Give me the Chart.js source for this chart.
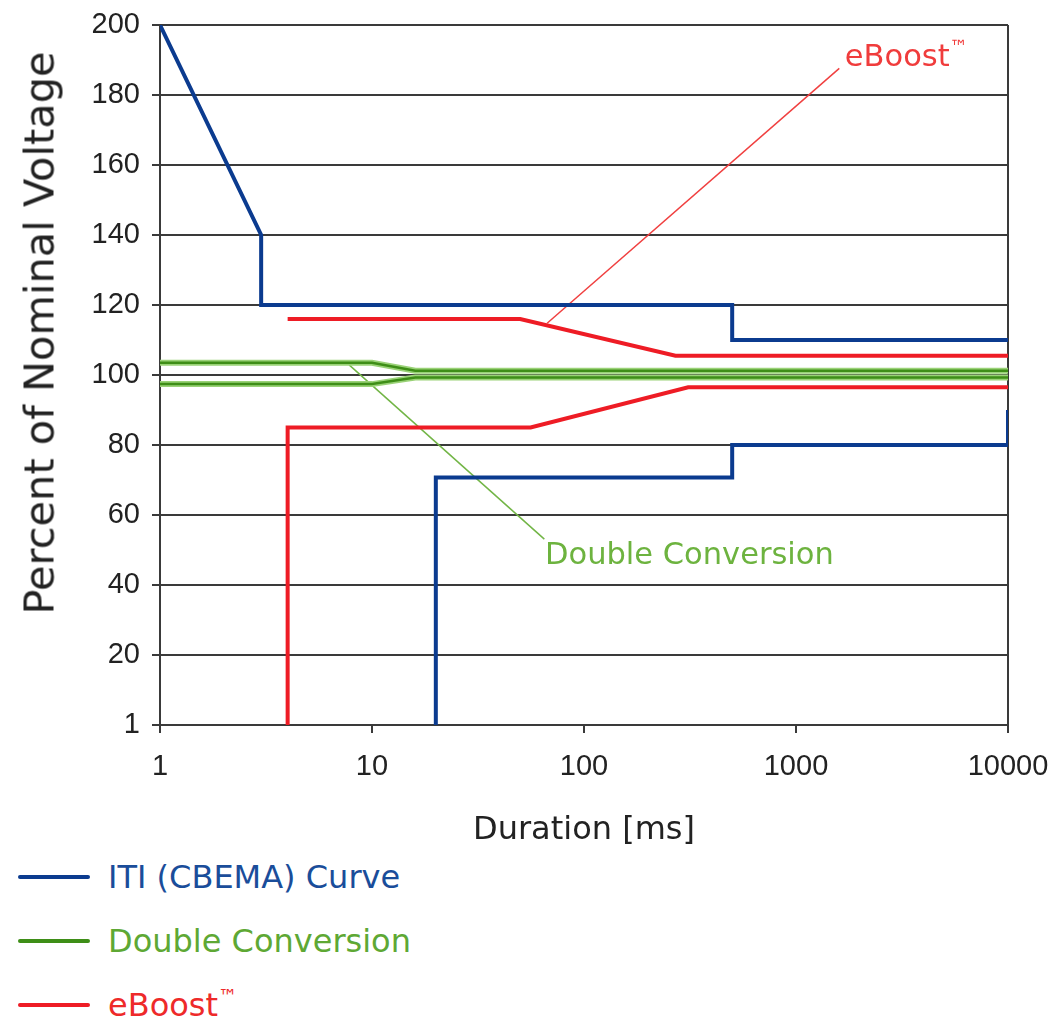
<!DOCTYPE html>
<html><head><meta charset="utf-8">
<script src="https://cdn.jsdelivr.net/npm/chart.js@4.4.1/dist/chart.umd.min.js"></script>
<style>
html,body{margin:0;padding:0;background:#fff;}
#wrap{position:relative;width:1058px;height:1020px;overflow:hidden;font-family:"DejaVu Sans",sans-serif;}
#c{position:absolute;left:0;top:0;}
.ytitle{position:absolute;left:39px;top:333px;transform:translate(-50%,-50%) rotate(-90deg);white-space:nowrap;font-size:41.5px;color:#222;}
.ann{position:absolute;white-space:nowrap;font-size:30px;transform:translateY(-50%);line-height:1;}
.tm{font-size:0.6em;vertical-align:0.7em;}
.leg{position:absolute;left:18px;display:flex;align-items:center;height:40px;transform:translateY(-50%);}
.leg .sw{width:72px;height:4px;margin-right:18px;border-radius:2px;}
.leg .tx{font-size:32px;white-space:nowrap;}
</style></head>
<body>
<div id="wrap">
  <canvas id="c" width="1058" height="850"></canvas>
  <div class="ytitle" id="ytitle"></div>
  <div class="ann" id="annEb"></div>
  <div class="ann" id="annDc"></div>
  <div id="legend"></div>
</div>
<script>
// ---- data ----
const xTickValues = [1, 10, 100, 1000, 10000];
const xTickLabels = ['1', '10', '100', '1000', '10000'];
const yTickValues = [0, 20, 40, 60, 80, 100, 120, 140, 160, 180, 200];
const yTickLabels = ['1', '20', '40', '60', '80', '100', '120', '140', '160', '180', '200'];

const xTitle = 'Duration [ms]';
const yTitle = 'Percent of Nominal Voltage';

const seriesNames = ['ITI (CBEMA) Curve', 'Double Conversion', 'eBoost\u2122'];

// ITI (CBEMA) curve
const itiUpperX = [1, 3, 3, 500, 500, 10000];
const itiUpperY = [200, 140, 120, 120, 110, 110];
const itiLowerX = [20, 20, 500, 500, 10000, 10000];
const itiLowerY = [0, 70.7, 70.7, 80, 80, 90];

// Double Conversion
const dcUpperX = [1, 10, 16, 10000];
const dcUpperY = [103.5, 103.5, 101.2, 101.2];
const dcLowerX = [1, 10, 16, 10000];
const dcLowerY = [97.4, 97.4, 99.3, 99.3];

// eBoost
const ebUpperX = [4, 50, 270, 10000];
const ebUpperY = [116, 116, 105.5, 105.5];
const ebLowerX = [4, 4, 56, 310, 10000];
const ebLowerY = [0, 85, 85, 96.5, 96.5];

// callout leader lines (data coordinates)
const ebLeaderX = [67, 1600];
const ebLeaderY = [114.8, 187.6];
const dcLeaderX = [7.8, 65];
const dcLeaderY = [102.9, 53.1];

// callout label anchors (data coordinates)
const ebLabelAt = [1700, 191.5];
const dcLabelAt = [65.5, 48.9];

// ---- styles ----
const C_BLUE = '#0b3b8f', C_RED = '#ee1c25', C_GREEN = '#3e8e17', C_GREEN_HALO = '#9ad277';
const C_GRID = '#3a3a3a';

function pts(xs, ys) { return xs.map((x, i) => ({x: x, y: ys[i]})); }
function line(data, color, width, order) {
  return {data: data, borderColor: color, backgroundColor: color, borderWidth: width,
    showLine: true, pointRadius: 0, pointHoverRadius: 0, tension: 0, fill: false, order: order,
    borderJoinStyle: 'miter', borderCapStyle: 'butt'};
}

const datasets = [
  line(pts(ebLeaderX, ebLeaderY), '#f04040', 1.5, 9),
  line(pts(dcLeaderX, dcLeaderY), '#72b546', 1.5, 9),
  line(pts(dcUpperX, dcUpperY), C_GREEN_HALO, 6, 6),
  line(pts(dcLowerX, dcLowerY), C_GREEN_HALO, 6, 6),
  line(pts(dcUpperX, dcUpperY), C_GREEN, 2.5, 5),
  line(pts(dcLowerX, dcLowerY), C_GREEN, 2.5, 5),
  line(pts(ebUpperX, ebUpperY), C_RED, 4, 3),
  line(pts(ebLowerX, ebLowerY), C_RED, 4, 3),
  line(pts(itiUpperX, itiUpperY), C_BLUE, 4, 2),
  line(pts(itiLowerX, itiLowerY), C_BLUE, 4, 2),
];

const htmlPos = {
  id: 'htmlPos',
  afterRender(chart) {
    const xs = chart.scales.x, ys = chart.scales.y;
    const eb = document.getElementById('annEb');
    eb.style.left = xs.getPixelForValue(ebLabelAt[0]) + 'px';
    eb.style.top = ys.getPixelForValue(ebLabelAt[1]) + 'px';
    const dc = document.getElementById('annDc');
    dc.style.left = xs.getPixelForValue(dcLabelAt[0]) + 'px';
    dc.style.top = ys.getPixelForValue(dcLabelAt[1]) + 'px';
  }
};

new Chart(document.getElementById('c'), {
  type: 'scatter',
  data: {datasets: datasets},
  options: {
    responsive: false,
    animation: false,
    devicePixelRatio: 1,
    layout: {padding: {top: 25, right: 50, left: 0, bottom: 0}},
    plugins: {legend: {display: false}, tooltip: {enabled: false}},
    scales: {
      x: {
        type: 'logarithmic', min: 1, max: 10000,
        afterBuildTicks: (s) => { s.ticks = xTickValues.map(v => ({value: v, major: true})); },
        afterFit: (s) => { s.height = 125; s.paddingLeft = 0; s.paddingRight = 0; },
        ticks: {
          autoSkip: false, maxRotation: 0, padding: 17, color: '#222',
          font: {family: '"Liberation Sans", Arial, sans-serif', size: 29},
          callback: (v) => { const i = xTickValues.indexOf(v); return i >= 0 ? xTickLabels[i] : ''; }
        },
        grid: {
          drawOnChartArea: true, lineWidth: 2, tickLength: 8, tickWidth: 2, tickColor: C_GRID,
          color: (ctx) => (ctx.tick && ctx.tick.value === 10000) ? C_GRID : 'rgba(0,0,0,0)'
        },
        border: {display: true, color: C_GRID, width: 2},
        title: {display: true, text: xTitle, color: '#222', padding: {top: 0, bottom: 0},
          font: {family: '"DejaVu Sans", sans-serif', size: 32}}
      },
      y: {
        type: 'linear', min: 0, max: 200,
        afterBuildTicks: (s) => { s.ticks = yTickValues.map(v => ({value: v})); },
        afterFit: (s) => { s.width = 160; s.paddingTop = 0; s.paddingBottom = 0; },
        ticks: {
          padding: 12, color: '#222',
          font: {family: '"Liberation Sans", Arial, sans-serif', size: 29},
          callback: (v) => { const i = yTickValues.indexOf(v); return i >= 0 ? yTickLabels[i] : ''; }
        },
        grid: {color: C_GRID, lineWidth: 2, tickLength: 8, tickWidth: 2, tickColor: C_GRID},
        border: {display: true, color: C_GRID, width: 2},
        title: {display: false}
      }
    }
  },
  plugins: [htmlPos]
});

// ---- HTML text ----
document.getElementById('ytitle').textContent = yTitle;
const annEb = document.getElementById('annEb');
annEb.style.color = '#f03c3c';
annEb.style.fontSize = '30.5px';
annEb.innerHTML = 'eBoost<span class="tm">\u2122</span>';
const annDc = document.getElementById('annDc');
annDc.style.color = '#6db33f';
annDc.style.fontSize = '30.5px';
annDc.textContent = seriesNames[1];

const legendColors = [[C_BLUE, '#1a4d9a'], [C_GREEN, '#5ea834'], [C_RED, '#ee2a2a']];
const legendTops = [877, 941, 1005];
const leg = document.getElementById('legend');
seriesNames.forEach((name, i) => {
  const row = document.createElement('div');
  row.className = 'leg';
  row.style.top = legendTops[i] + 'px';
  const sw = document.createElement('div');
  sw.className = 'sw';
  sw.style.background = legendColors[i][0];
  const tx = document.createElement('div');
  tx.className = 'tx';
  tx.style.color = legendColors[i][1];
  if (i === 2) { tx.innerHTML = 'eBoost<span class="tm">\u2122</span>'; } else { tx.textContent = name; }
  row.appendChild(sw); row.appendChild(tx);
  leg.appendChild(row);
});
</script>
</body></html>
